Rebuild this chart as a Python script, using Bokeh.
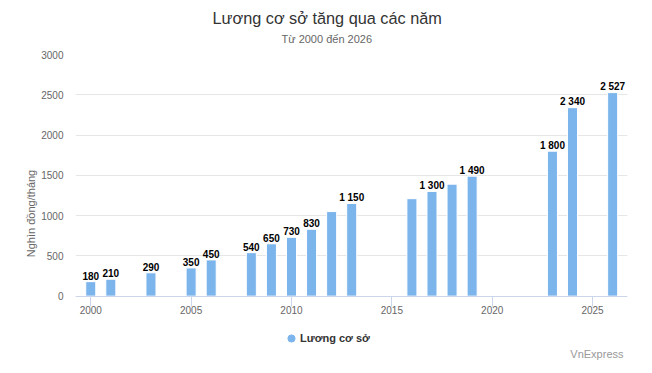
from bokeh.plotting import figure
from bokeh.models import (ColumnDataSource, Range1d, FixedTicker, Title, Legend, LegendItem, Label)
from bokeh.core.properties import value
from bokeh.embed import file_html
from bokeh.resources import INLINE

# ---- data ----
years = [2000, 2001, 2003, 2005, 2006, 2008, 2009, 2010, 2011, 2012, 2013,
         2016, 2017, 2018, 2019, 2023, 2024, 2026]
salary = [180, 210, 290, 350, 450, 540, 650, 730, 830, 1050, 1150,
          1210, 1300, 1390, 1490, 1800, 2340, 2527]
show_label = [True, True, True, True, True, True, True, True, True, False, True,
              False, True, False, True, True, True, True]
y_ticks = [0, 500, 1000, 1500, 2000, 2500, 3000]
x_ticks = [2000, 2005, 2010, 2015, 2020, 2025]
title_text = "Lương cơ sở tăng qua các năm"
subtitle_text = "Từ 2000 đến 2026"
series_name = "Lương cơ sở"
y_title = "Nghìn đồng/tháng"
credit_text = "VnExpress"

FONT = "Liberation Sans"
BAR = "#7cb5ec"

labels = [f"{v:,}".replace(",", " ") if s else "" for v, s in zip(salary, show_label)]
src = ColumnDataSource(dict(x=years, y=salary, lab=labels))

# frame spans from below the titles to the bottom of the page; the value axis
# occupies its upper part (0..3000), the legend and credit sit underneath
p = figure(frame_width=552, frame_height=318, output_backend="svg", toolbar_location=None,
           title=None,
           x_range=Range1d(1999.24, 2026.74), y_range=Range1d(-948, 3000),
           min_border_left=75, min_border_right=25, min_border_top=0,
           min_border_bottom=0)
p.outline_line_color = None
p.background_fill_color = "white"
p.border_fill_color = "white"

p.xgrid.grid_line_color = None
p.ygrid.grid_line_color = "#e6e6e6"
p.ygrid.ticker = FixedTicker(ticks=y_ticks)

p.yaxis.ticker = FixedTicker(ticks=y_ticks)
p.yaxis.axis_line_color = None
p.yaxis.major_tick_line_color = None
p.yaxis.minor_tick_line_color = None
p.yaxis.major_label_standoff = 6
p.yaxis.major_label_text_font = FONT
p.yaxis.major_label_text_font_size = "10px"
p.yaxis.major_label_text_color = "#666666"
p.yaxis.axis_label = y_title
p.yaxis.axis_label_text_font = FONT
p.yaxis.axis_label_text_font_style = "normal"
p.yaxis.axis_label_text_font_size = "11px"
p.yaxis.axis_label_text_color = "#666666"
p.yaxis.axis_label_standoff = 1

p.xaxis.fixed_location = 0
p.xaxis.ticker = FixedTicker(ticks=x_ticks)
p.xaxis.axis_line_color = "#ccd6eb"
p.xaxis.major_tick_line_color = "#ccd6eb"
p.xaxis.major_tick_out = 10
p.xaxis.major_tick_in = 0
p.xaxis.minor_tick_line_color = None
p.xaxis.major_label_standoff = 0
p.xaxis.major_label_text_font = FONT
p.xaxis.major_label_text_font_size = "10px"
p.xaxis.major_label_text_color = "#666666"

p.vbar(x="x", top="y", width=0.5, source=src, fill_color=BAR,
       line_color="white", line_width=1)

p.text(x="x", y="y", text="lab", source=src, text_align="center",
       text_baseline="alphabetic", y_offset=-6, text_font=value(FONT),
       text_font_size="10px", text_font_style="bold", text_color="#000000")

# titles (first added = closest to the plot frame)
p.add_layout(Title(text=subtitle_text, align="left", offset=206, vertical_align="top",
                   standoff=13.7, text_font=FONT, text_font_size="11px",
                   text_font_style="normal", text_color="#666666"), "above")
p.add_layout(Title(text=title_text, align="left", offset=137, vertical_align="bottom",
                   standoff=0, text_font=FONT, text_font_size="16.3px",
                   text_font_style="normal", text_color="#333333"), "above")
p.add_layout(Title(text=" ", align="left", standoff=3, text_font=FONT,
                   text_font_size="1px", text_color="white"), "above")

# legend: proxy circle renderer placed outside the visible x range
r_leg = p.scatter(x=[min(years) - 10], y=[0], size=7, marker="circle",
                  fill_color=BAR, line_color=BAR)
legend = Legend(items=[LegendItem(label=series_name, renderers=[r_leg])],
                location=(207, 25), orientation="horizontal",
                glyph_width=18, glyph_height=18, label_standoff=0,
                padding=0, margin=0, border_line_color=None,
                background_fill_alpha=0, label_text_font=FONT,
                label_text_font_size="11px", label_text_font_style="bold",
                label_text_color="#333333")
p.add_layout(legend, "center")

p.add_layout(Label(x=548, y=19, x_units="screen", y_units="screen", text=credit_text,
                   text_align="right", text_baseline="middle", text_font=FONT,
                   text_font_size="11px", text_color="#999999"))

open("out.html", "w").write(file_html(p, INLINE))
